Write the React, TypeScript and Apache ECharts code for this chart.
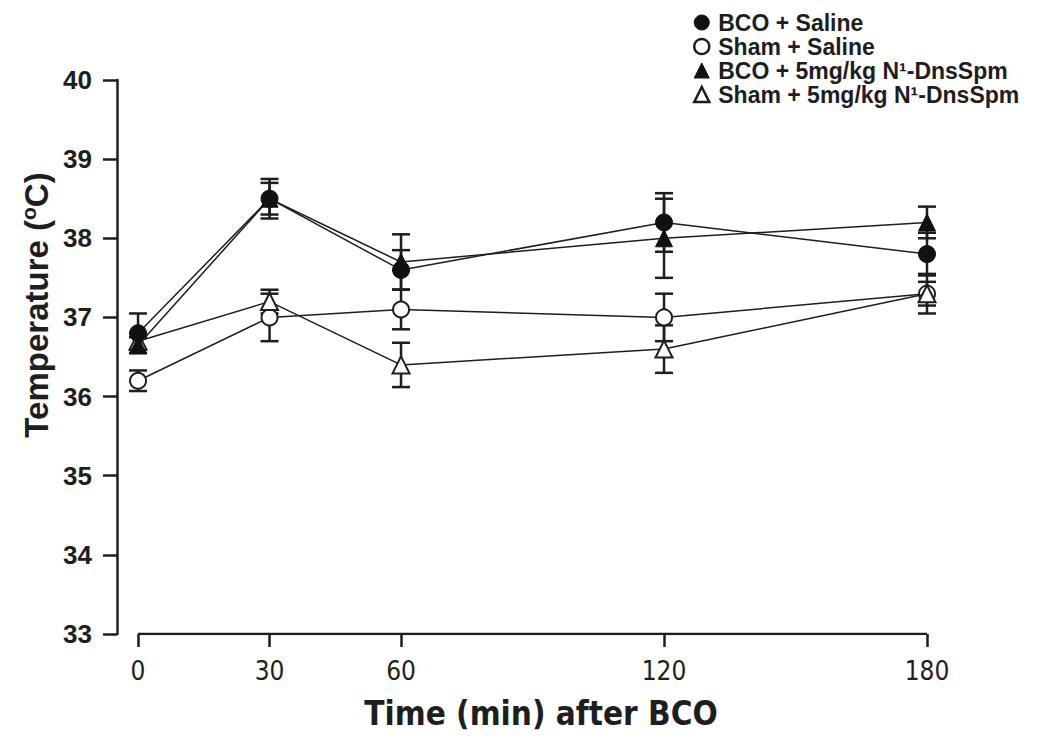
import React, { useEffect, useRef } from "react";
import * as echarts from "echarts";

const times = [0, 30, 60, 120, 180];
const xTicks = [0, 30, 60, 120, 180];
const xAxisSpan = [0, 180];
const yAxisBase = 33;

const seriesNames = [
  "BCO + Saline",
  "Sham + Saline",
  "BCO + 5mg/kg N¹-DnsSpm",
  "Sham + 5mg/kg N¹-DnsSpm",
];

const bcoSaline = [36.8, 38.5, 37.6, 38.2, 37.8];
const bcoSalineErr = [0.25, 0.25, 0.25, 0.37, 0.27];
const shamSaline = [36.2, 37.0, 37.1, 37.0, 37.3];
const shamSalineErr = [0.13, 0.3, 0.25, 0.3, 0.25];
const bcoDns = [36.65, 38.5, 37.7, 38.0, 38.2];
const bcoDnsErr = [0.1, 0.2, 0.35, 0.5, 0.2];
const shamDns = [36.7, 37.2, 36.4, 36.6, 37.3];
const shamDnsErr = [0.1, 0.15, 0.28, 0.3, 0.15];

const INK = "#1e1e1e";
const NARROW = "'Liberation Sans Narrow', 'Arial Narrow', 'DejaVu Sans Condensed', 'Liberation Sans', Arial, sans-serif";
const SANS = "'Liberation Sans', Arial, sans-serif";

export default function App() {
  const ref = useRef<HTMLDivElement>(null);

  useEffect(() => {
    if (!ref.current) return;
    const chart = echarts.init(ref.current, null, { renderer: "svg" });

    const groups = [
      { name: seriesNames[0], vals: bcoSaline, errs: bcoSalineErr, symbol: "circle", filled: true, size: 17, z: 6 },
      { name: seriesNames[1], vals: shamSaline, errs: shamSalineErr, symbol: "circle", filled: false, size: 16, z: 4 },
      { name: seriesNames[2], vals: bcoDns, errs: bcoDnsErr, symbol: "triangle", filled: true, size: 17, z: 7 },
      { name: seriesNames[3], vals: shamDns, errs: shamDnsErr, symbol: "triangle", filled: false, size: 17, z: 5 },
    ];

    const errSeries = groups.map((g) => ({
      type: "custom",
      name: g.name + " err",
      silent: true,
      z: 2,
      data: times.map((t, i) => [t, g.vals[i] - g.errs[i], g.vals[i] + g.errs[i]]),
      renderItem: (params: any, api: any) => {
        const x = api.value(0);
        const lo = api.coord([x, api.value(1)]);
        const hi = api.coord([x, api.value(2)]);
        const hw = 9;
        const style = { stroke: INK, lineWidth: 2.5 };
        return {
          type: "group",
          children: [
            { type: "line", shape: { x1: lo[0], y1: lo[1], x2: hi[0], y2: hi[1] }, style },
            { type: "line", shape: { x1: lo[0] - hw, y1: lo[1], x2: lo[0] + hw, y2: lo[1] }, style },
            { type: "line", shape: { x1: hi[0] - hw, y1: hi[1], x2: hi[0] + hw, y2: hi[1] }, style },
          ],
        };
      },
    }));

    const lineSeries = groups.map((g) => ({
      type: "line",
      name: g.name,
      z: g.z,
      data: times.map((t, i) => [t, g.vals[i]]),
      symbol: g.symbol,
      symbolSize: g.size,
      showSymbol: true,
      lineStyle: { color: INK, width: 1.5 },
      itemStyle: g.filled
        ? { color: "#111", borderColor: "#111", borderWidth: 1 }
        : { color: "#ffffff", borderColor: INK, borderWidth: 2 },
      emphasis: { disabled: true },
    }));

    // detached x-axis baseline, drawn from 0 to 180 min at the bottom of the y range
    const baseline = {
      type: "line",
      name: "x-axis",
      silent: true,
      z: 1,
      symbol: "none",
      data: xAxisSpan.map((t) => [t, yAxisBase]),
      lineStyle: { color: INK, width: 2.5 },
      emphasis: { disabled: true },
    };

    const legendData = groups.map((g) => ({
      name: g.name,
      icon: g.symbol,
      itemStyle: g.filled
        ? { color: "#111", borderColor: "#111", borderWidth: 1 }
        : { color: "#ffffff", borderColor: INK, borderWidth: 2.5 },
    }));

    chart.setOption({
      animation: false,
      backgroundColor: "#ffffff",
      grid: { left: 117, right: 122, top: 80, bottom: 104, outerBoundsMode: "none" },
      legend: {
        orient: "vertical",
        left: 693,
        top: 11,
        padding: 0,
        itemWidth: 15,
        itemHeight: 15,
        itemGap: 1,
        selectedMode: false,
        data: legendData,
        textStyle: {
          fontFamily: SANS,
          fontWeight: "bold",
          fontSize: 23,
          color: INK,
          lineHeight: 23,
          padding: [0, 0, 0, 4],
        },
      },
      xAxis: {
        type: "value",
        min: -4.8,
        max: 180,
        splitLine: { show: false },
        axisLine: { show: false, onZero: false },
        axisTick: { show: true, customValues: xTicks, length: 13, lineStyle: { color: INK, width: 2.5 } },
        axisLabel: {
          customValues: xTicks,
          margin: 24,
          fontFamily: NARROW,
          fontSize: 26,
          color: INK,
        },
        name: "Time (min) after BCO",
        nameLocation: "middle",
        nameGap: 63,
        nameTextStyle: {
          fontFamily: NARROW,
          fontWeight: "bold",
          fontSize: 33,
          color: INK,
          padding: [0, 0, 0, 38],
        },
      },
      yAxis: {
        type: "value",
        min: 33,
        max: 40,
        interval: 1,
        splitLine: { show: false },
        axisLine: { show: true, onZero: false, lineStyle: { color: INK, width: 2.5 } },
        axisTick: { show: true, length: 14, lineStyle: { color: INK, width: 2.5 } },
        axisLabel: {
          margin: 25,
          fontFamily: SANS,
          fontWeight: "bold",
          fontSize: 26,
          color: INK,
        },
      },
      graphic: [
        {
          type: "text",
          x: 36,
          y: 305,
          rotation: Math.PI / 2,
          style: {
            text: "Temperature ({sup|o}C)",
            fontFamily: SANS,
            fontWeight: "bold",
            fontSize: 33,
            fill: INK,
            align: "center",
            verticalAlign: "middle",
            rich: {
              sup: {
                fontFamily: SANS,
                fontSize: 21,
                fontWeight: "bold",
                fill: INK,
                verticalAlign: "top",
                padding: [0, 0, 16, 0],
              },
            },
          },
        },
      ],
      series: [baseline, ...errSeries, ...lineSeries],
    });

    return () => chart.dispose();
  }, []);

  return (
    <div
      ref={ref}
      style={{ position: "fixed", left: 0, top: 0, width: 1049, height: 738, background: "#fff" }}
    />
  );
}
